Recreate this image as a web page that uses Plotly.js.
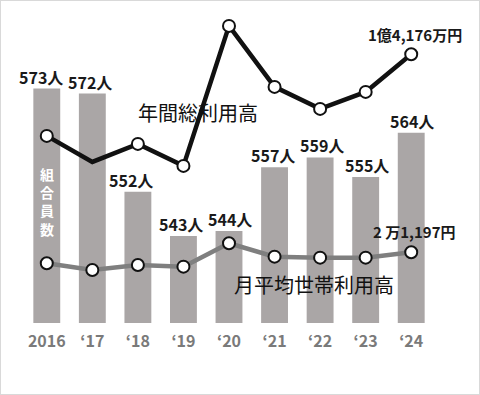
<!DOCTYPE html>
<html>
<head>
<meta charset="utf-8">
<script src="https://cdn.plot.ly/plotly-3.0.1.min.js"></script>
<style>
  html, body { margin: 0; padding: 0; background: #fff; }
  #wrap { position: relative; width: 480px; height: 395px; }
  #chart { width: 480px; height: 395px; }
  #frame { position: absolute; left: 0; top: 0; width: 480px; height: 395px; box-sizing: border-box;
           border: 1px solid #d9d9d9; pointer-events: none; }
</style>
</head>
<body>
<div id="wrap"><div id="chart"></div><div id="frame"></div></div>
<script>
// ---- data ----
const years = ['2016', '\u201817', '\u201818', '\u201819', '\u201820', '\u201821', '\u201822', '\u201823', '\u201824'];
const members = [573, 572, 552, 543, 544, 557, 559, 555, 564];            // 組合員数 (人)
const annualTotal = [13360, 13100, 13280, 13060, 14460, 13850, 13630, 13800, 14176]; // 年間総利用高 (万円)
const monthlyAvg = [19770, 18900, 19550, 19330, 22370, 20630, 20500, 20500, 21197];  // 月平均世帯利用高 (円)

// ---- layout helpers ----
const FONT = '"Noto Sans CJK JP", "Noto Sans", sans-serif';
const labelXShift = [-6, -2, -7, -2, 1, -2, 2, 1, 1];
const n = years.length;
const last = n - 1;

function fmtOku(v) {            // 万円 -> 1億4,176万円
  const oku = Math.floor(v / 10000), rest = v % 10000;
  return oku + '億' + rest.toLocaleString('en-US') + '万円';
}
function fmtMan(v) {            // 円 -> 2万1,197円
  const man = Math.floor(v / 10000), rest = v % 10000;
  return man + ' 万' + rest.toLocaleString('en-US') + '円';
}

const bars = {
  type: 'bar', x: years, y: members, yaxis: 'y',
  width: 0.59,
  marker: { color: '#aaa6a6' },
  hoverinfo: 'skip'
};
const annualLine = {
  type: 'scatter', mode: 'lines+markers', x: years, y: annualTotal, yaxis: 'y2',
  line: { color: '#111111', width: 4.5 },
  marker: { size: annualTotal.map((_, i) => i === 1 ? 0 : 12), color: '#ffffff', opacity: 1,
            line: { color: '#111111', width: 2 } },
  cliponaxis: false
};
const monthlyLine = {
  type: 'scatter', mode: 'lines+markers', x: years, y: monthlyAvg, yaxis: 'y3',
  line: { color: '#7f7f7f', width: 4.5 },
  marker: { size: 12, color: '#ffffff', opacity: 1, line: { color: '#111111', width: 2 } },
  cliponaxis: false
};

const annotations = [];
members.forEach((v, i) => {
  annotations.push({
    x: i, y: v, xref: 'x', yref: 'y', text: v + '人', showarrow: false,
    yanchor: 'middle', yshift: 12, xshift: labelXShift[i],
    font: { family: FONT, size: 16, color: '#1a1a1a', weight: 700 }
  });
});
annotations.push({
  x: 0, xref: 'x', y: 0.3866, yref: 'paper',
  text: '組<br>合<br>員<br>数', showarrow: false, yanchor: 'middle',
  font: { family: FONT, size: 14, color: '#ffffff', weight: 700 }
});
annotations.push({
  x: last, xref: 'x', y: annualTotal[last], yref: 'y2',
  text: fmtOku(annualTotal[last]), showarrow: false, yanchor: 'middle',
  xshift: 4, yshift: 20,
  font: { family: FONT, size: 15, color: '#1a1a1a', weight: 700 }
});
annotations.push({
  x: last, xref: 'x', y: monthlyAvg[last], yref: 'y3',
  text: fmtMan(monthlyAvg[last]), showarrow: false, yanchor: 'middle',
  xshift: 3, yshift: 21,
  font: { family: FONT, size: 15, color: '#1a1a1a', weight: 700 }
});
annotations.push({
  x: 0.4244, xref: 'paper', y: 0.674, yref: 'paper',
  text: '年間総利用高', showarrow: false, xanchor: 'center', yanchor: 'middle',
  font: { family: FONT, size: 20, color: '#111111' }
});
annotations.push({
  x: 0.7073, xref: 'paper', y: 0.1236, yref: 'paper',
  text: '月平均世帯利用高', showarrow: false, xanchor: 'center', yanchor: 'middle',
  font: { family: FONT, size: 20, color: '#111111' }
});

const layout = {
  width: 480, height: 395,
  margin: { l: 24, r: 46, t: 10, b: 72 },
  paper_bgcolor: '#ffffff', plot_bgcolor: '#ffffff',
  showlegend: false,
  xaxis: {
    type: 'category', range: [-0.5, n - 0.5], showgrid: false, zeroline: false, showline: false,
    ticks: 'outside', ticklen: 4, tickcolor: 'rgba(0,0,0,0)',
    tickfont: { family: FONT, size: 16, color: '#7a7a7a', weight: 700 },
    fixedrange: true
  },
  yaxis: { range: [525.3, 589.0], visible: false, fixedrange: true },
  yaxis2: { range: [11489, 14619], overlaying: 'y', visible: false, fixedrange: true },
  yaxis3: { range: [12006, 52696], overlaying: 'y', visible: false, fixedrange: true },
  annotations: annotations
};

Plotly.newPlot('chart', [bars, monthlyLine, annualLine], layout, { displayModeBar: false, staticPlot: true });
</script>
</body>
</html>
